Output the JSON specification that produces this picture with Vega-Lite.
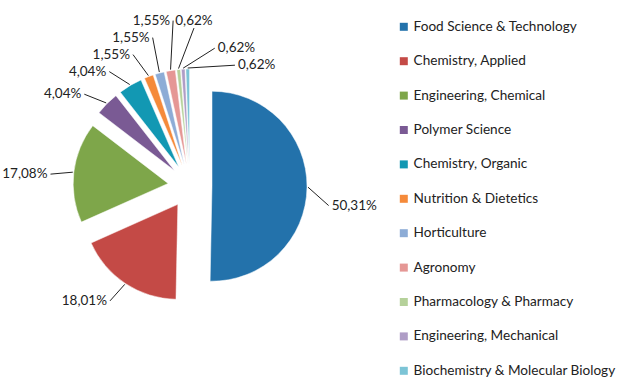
{
  "$schema": "https://vega.github.io/schema/vega-lite/v6.json",
  "width": 644,
  "height": 388,
  "autosize": "none",
  "padding": 0,
  "background": "white",
  "config": {"view": {"stroke": null}},
  "data": {
    "values": [
      {"subject": "Food Science & Technology", "value": 50.31},
      {"subject": "Chemistry, Applied", "value": 18.01},
      {"subject": "Engineering, Chemical", "value": 17.08},
      {"subject": "Polymer Science", "value": 4.04},
      {"subject": "Chemistry, Organic", "value": 4.04},
      {"subject": "Nutrition & Dietetics", "value": 1.55},
      {"subject": "Horticulture", "value": 1.55},
      {"subject": "Agronomy", "value": 1.55},
      {"subject": "Pharmacology & Pharmacy", "value": 0.62},
      {"subject": "Engineering, Mechanical", "value": 0.62},
      {"subject": "Biochemistry & Molecular Biology", "value": 0.62}
    ]
  },
  "transform": [
    {"window": [{"op": "row_number", "as": "rank"}]},
    {"window": [{"op": "sum", "field": "value", "as": "cum"}], "sort": [{"field": "rank"}], "frame": [null, 0]},
    {"joinaggregate": [{"op": "sum", "field": "value", "as": "total"}]},
    {"calculate": "2*PI*(datum.cum - datum.value/2)/datum.total", "as": "mid"},
    {"calculate": "max(datum.value, 2.5)", "as": "lw"},
    {"window": [{"op": "sum", "field": "lw", "as": "lcum"}], "sort": [{"field": "rank"}], "frame": [null, 0]},
    {"calculate": "(12 + 3.42*(datum.lcum - datum.lw/2))*PI/180", "as": "lmid"},
    {"calculate": "22*sin(datum.mid)", "as": "cx"},
    {"calculate": "-22*cos(datum.mid)", "as": "cy"},
    {"calculate": "118*sin(datum.mid)", "as": "px"},
    {"calculate": "-118*cos(datum.mid)", "as": "py"},
    {"calculate": "((datum.lmid % (2*PI)) + 2*PI) % (2*PI)", "as": "lkey"},
    {"calculate": "sin(datum.lmid) < -0.05 ? 'L' : sin(datum.lmid) > 0.05 ? 'R' : 'C'", "as": "side"},
    {"calculate": "-140*cos(datum.lmid)", "as": "nat"},
    {"calculate": "140*sin(datum.lmid)", "as": "lx"},
    {"window": [{"op": "row_number", "as": "j"}], "groupby": ["side"], "sort": [{"field": "lkey"}]},
    {"calculate": "datum.nat + 17*datum.j", "as": "tl"},
    {"calculate": "datum.nat - 17*datum.j", "as": "tr"},
    {"window": [{"op": "min", "field": "tl", "as": "tlm"}, {"op": "max", "field": "tr", "as": "trm"}], "groupby": ["side"], "sort": [{"field": "lkey"}], "frame": [null, 0]},
    {"calculate": "datum.side == 'L' ? datum.tlm - 17*datum.j : datum.side == 'R' ? datum.trm + 17*datum.j : -165*cos(datum.lmid)", "as": "ly"},
    {"calculate": "datum.ly + (datum.side == 'C' ? 7 : 0)", "as": "ly2"},
    {"calculate": "replace(format(datum.value, '.2f'), '.', ',') + '%'", "as": "label"}
  ],
  "layer": [
    {
      "mark": {"type": "arc", "radius": 95, "stroke": "white", "strokeWidth": 0.5},
      "encoding": {
        "theta": {"field": "value", "type": "quantitative", "stack": true},
        "order": {"field": "rank", "type": "quantitative"},
        "x": {"field": "cx", "type": "quantitative", "scale": {"domain": [-190, 454], "range": [0, 644], "nice": false, "zero": false}, "axis": null},
        "y": {"field": "cy", "type": "quantitative", "scale": {"domain": [-186, 202], "range": [0, 388], "nice": false, "zero": false}, "axis": null},
        "color": {
          "field": "subject",
          "type": "nominal",
          "sort": null,
          "scale": {
            "domain": ["Food Science & Technology", "Chemistry, Applied", "Engineering, Chemical", "Polymer Science", "Chemistry, Organic", "Nutrition & Dietetics", "Horticulture", "Agronomy", "Pharmacology & Pharmacy", "Engineering, Mechanical", "Biochemistry & Molecular Biology"],
            "range": ["#2372AB", "#C44A46", "#7EA64A", "#7A5A94", "#1298B3", "#F58A3A", "#8DACD6", "#E59795", "#B5D19A", "#AF9DC6", "#7CC4D6"]
          },
          "legend": {
            "title": null,
            "orient": "none",
            "legendX": 397,
            "legendY": 20,
            "symbolType": "square",
            "symbolSize": 64,
            "symbolStrokeWidth": 0,
            "labelFont": "Lato",
            "labelFontSize": 13.6,
            "labelOffset": 3,
            "labelColor": "#222",
            "labelLimit": 300,
            "rowPadding": 19.4,
            "padding": 0
          }
        }
      }
    },
    {
      "mark": {"type": "rule", "color": "#222", "strokeWidth": 1},
      "encoding": {
        "x": {"field": "px", "type": "quantitative"},
        "y": {"field": "py", "type": "quantitative"},
        "x2": {"field": "lx"},
        "y2": {"field": "ly2"}
      }
    },
    {
      "mark": {
        "type": "text",
        "font": "Lato",
        "fontSize": 13.5,
        "color": "#222",
        "baseline": "middle",
        "align": {"expr": "datum.side == 'R' ? 'left' : datum.side == 'L' ? 'right' : 'center'"},
        "dx": {"expr": "datum.side == 'R' ? 3 : datum.side == 'L' ? -3 : 0"}
      },
      "encoding": {
        "x": {"field": "lx", "type": "quantitative"},
        "y": {"field": "ly", "type": "quantitative"},
        "text": {"field": "label", "type": "nominal"}
      }
    }
  ]
}
